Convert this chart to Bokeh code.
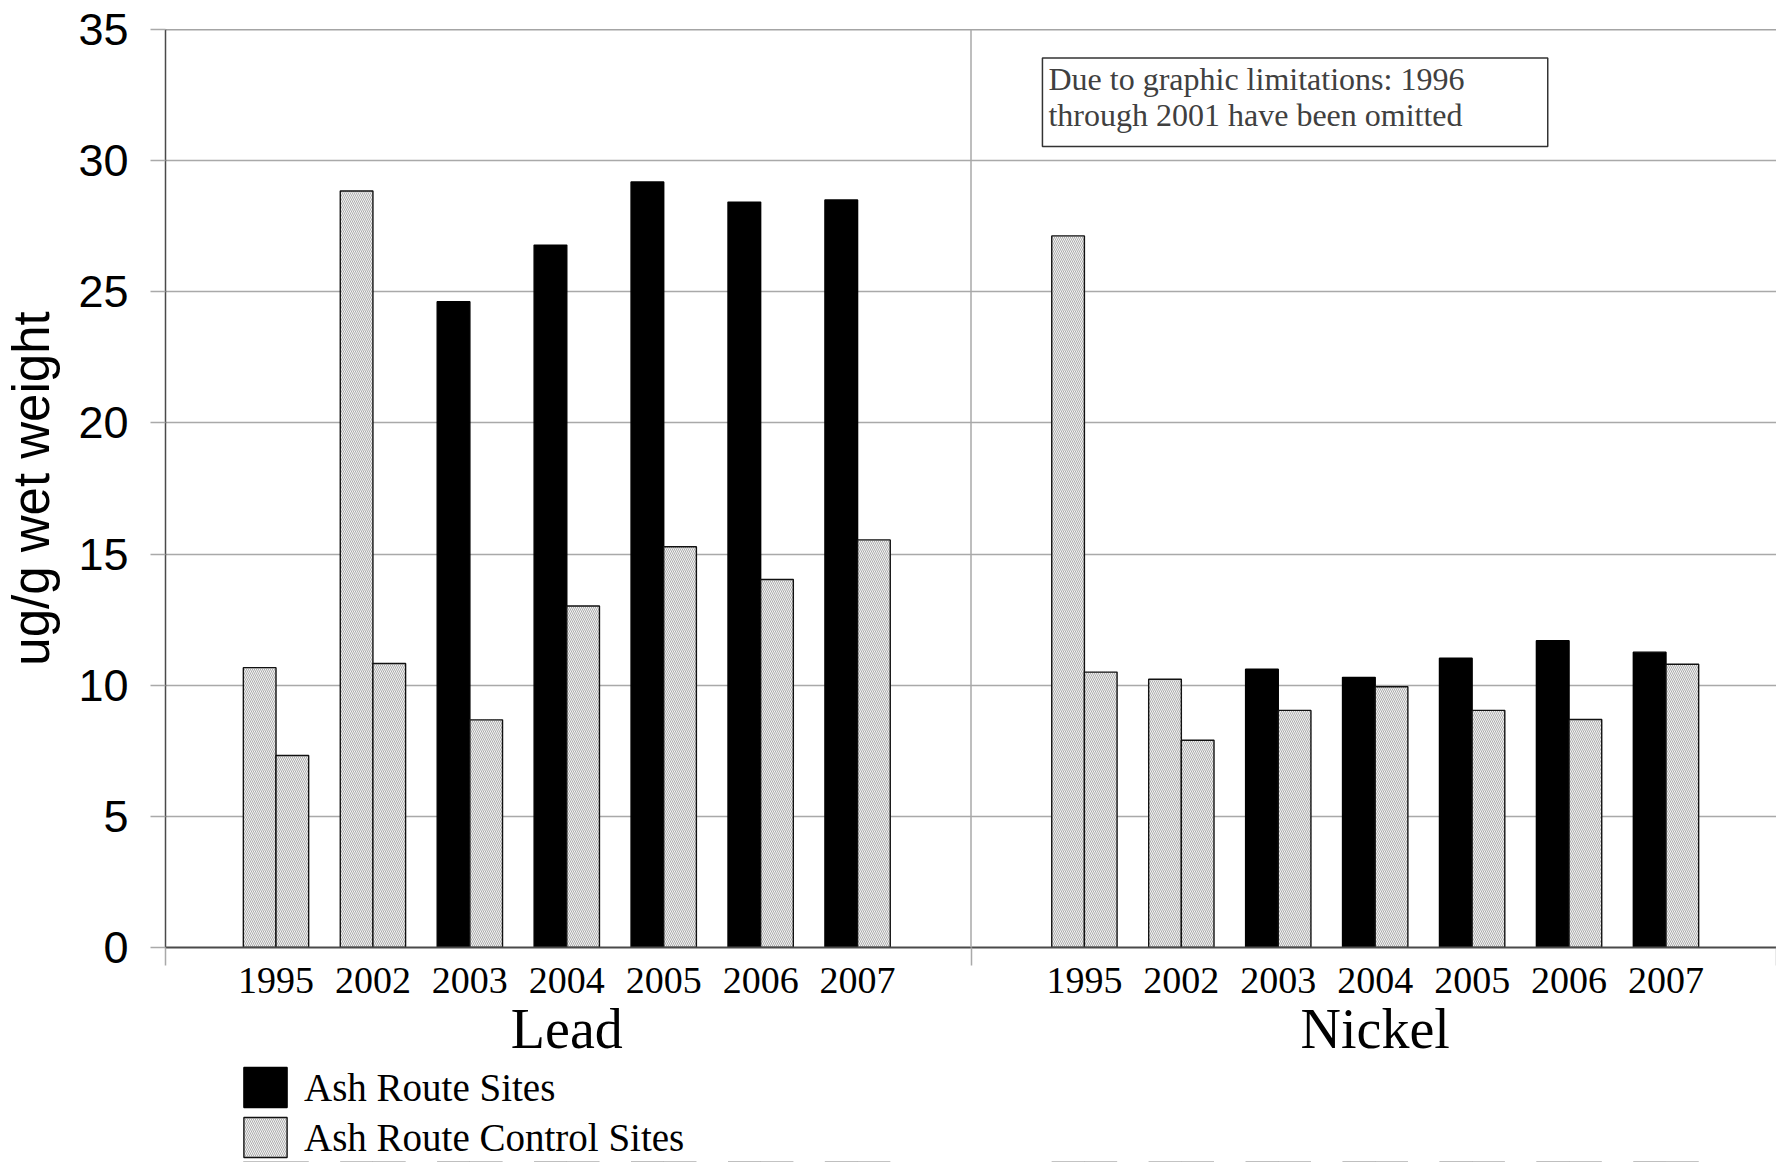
from bokeh.plotting import figure
from bokeh.layouts import column
from bokeh.models import (FactorRange, Range1d, LinearAxis, CategoricalAxis, FixedTicker,
                          ColumnDataSource, Span, Legend, LegendItem, Label, BoxAnnotation)
from bokeh.transform import dodge
from bokeh.embed import file_html
from bokeh.resources import INLINE

# ---------------- data ----------------
metals = ["Lead", "Nickel"]
years = ["1995", "2002", "2003", "2004", "2005", "2006", "2007"]
lead_first = [10.67, 28.84, 24.62, 26.78, 29.19, 28.42, 28.50]
lead_second = [7.32, 10.83, 8.68, 13.02, 15.28, 14.03, 15.54]
nickel_first = [27.13, 10.23, 10.61, 10.30, 11.03, 11.70, 11.26]
nickel_second = [10.50, 7.90, 9.04, 9.94, 9.04, 8.69, 10.80]
# in 1995 and 2002 the left bar is drawn with the control-site pattern
first_is_control = [True, True, False, False, False, False, False]
y_ticks = [0, 5, 10, 15, 20, 25, 30, 35]
series_names = ["Ash Route Sites", "Ash Route Control Sites"]
y_title = "ug/g wet weight"
note_text = "Due to graphic limitations: 1996\nthrough 2001 have been omitted"

# ---------------- layout constants ----------------
GROUP_PAD = 1.34
RANGE_PAD = 0.64
BAR_W = 0.337
GRID = "#a9a9a9"
AXIS = "#4a4a4a"
SERIF = "Liberation Serif"
SANS = "Liberation Sans"
W = 1776
LEFT = 163

factors = [(m, y) for m in metals for y in years]
first_vals = lead_first + nickel_first
second_vals = lead_second + nickel_second
first_ctrl = first_is_control * len(metals)

ash_src = ColumnDataSource(dict(
    x=[f for f, c in zip(factors, first_ctrl) if not c],
    top=[v for v, c in zip(first_vals, first_ctrl) if not c]))
ctrl_left_src = ColumnDataSource(dict(
    x=[f for f, c in zip(factors, first_ctrl) if c],
    top=[v for v, c in zip(first_vals, first_ctrl) if c]))
ctrl_right_src = ColumnDataSource(dict(x=factors, top=second_vals))

x_range = FactorRange(*factors, factor_padding=0, group_padding=GROUP_PAD,
                      range_padding=RANGE_PAD, range_padding_units="absolute")

p = figure(width=W, height=1062, x_range=x_range, y_range=Range1d(0, 35),
           output_backend="svg", toolbar_location=None, x_axis_location=None,
           min_border_top=29, min_border_right=0, min_border_left=LEFT,
           min_border_bottom=115, outline_line_color=None,
           background_fill_color="white", border_fill_color="white")

for g in p.xgrid:
    g.visible = False
p.ygrid.ticker = FixedTicker(ticks=y_ticks)
p.ygrid.grid_line_color = GRID
p.ygrid.grid_line_width = 1.5

yax = p.yaxis[0]
yax.ticker = FixedTicker(ticks=y_ticks)
yax.axis_line_color = AXIS
yax.axis_line_width = 1.5
yax.major_tick_line_color = GRID
yax.major_tick_line_width = 1.5
yax.major_tick_out = 15
yax.major_tick_in = 0
yax.minor_tick_line_color = None
yax.major_label_text_font = SANS
yax.major_label_text_font_size = "45px"
yax.major_label_text_color = "black"
yax.major_label_standoff = 22
yax.axis_label = y_title
yax.axis_label_text_font = SANS
yax.axis_label_text_font_size = "51px"
yax.axis_label_text_font_style = "normal"
yax.axis_label_text_color = "black"
yax.axis_label_standoff = 15

# top border and category divider
boundary = len(years) + GROUP_PAD / 2
total = len(factors) + GROUP_PAD
p.add_layout(Span(location=35, dimension="width", line_color=AXIS, line_width=1.5))
p.add_layout(Span(location=boundary, dimension="height", line_color=GRID, line_width=1.5))

# axis line with ticks at category boundaries (synthetic coordinates of the factor range)
tick_axis = LinearAxis(ticker=FixedTicker(ticks=[-RANGE_PAD, boundary, total + RANGE_PAD]),
                       major_tick_out=18, major_tick_in=0, major_tick_line_color=GRID,
                       major_tick_line_width=1.5, minor_tick_line_color=None,
                       axis_line_color=AXIS, axis_line_width=2,
                       major_label_text_font_size="1px", major_label_text_color=None,
                       major_label_standoff=0)
p.add_layout(tick_axis, "below")

cat_axis = CategoricalAxis(major_tick_line_color=None, major_tick_out=0, major_tick_in=0,
                           axis_line_color=None, separator_line_color=None,
                           major_label_text_font=SERIF, major_label_text_font_size="38px",
                           major_label_text_color="black", major_label_standoff=2,
                           group_text_font=SERIF, group_text_font_size="56px",
                           group_text_font_style="normal", group_text_color="black")
p.add_layout(cat_axis, "below")

hatch_kw = dict(fill_color="#f3f3f3", hatch_pattern="left_diagonal_line", hatch_scale=4,
                hatch_color="#9a9a9a", hatch_weight=0.8, line_color="#111111", line_width=1.4)
ash_kw = dict(fill_color="black", line_color="black", line_width=1.4)


def draw_bars(fig):
    r1 = fig.vbar(x=dodge("x", -BAR_W / 2, range=x_range), top="top", bottom=0, width=BAR_W,
                  source=ash_src, **ash_kw)
    fig.vbar(x=dodge("x", -BAR_W / 2, range=x_range), top="top", bottom=0, width=BAR_W,
             source=ctrl_left_src, **hatch_kw)
    r3 = fig.vbar(x=dodge("x", BAR_W / 2, range=x_range), top="top", bottom=0, width=BAR_W,
                  source=ctrl_right_src, **hatch_kw)
    return r1, r3


draw_bars(p)

# note box
p.add_layout(BoxAnnotation(left=8.407, right=13.62, top=33.91, bottom=30.54,
                           fill_color="white", fill_alpha=1.0,
                           line_color="#333333", line_alpha=1.0, line_width=1.5))
p.add_layout(Label(x=8.407, y=33.91, x_offset=6, y_offset=-3, text=note_text,
                   text_font=SERIF, text_font_size="32px", text_color="#404040",
                   text_align="left", text_baseline="top", text_line_height=1.0))

# ---------------- legend strip below the chart ----------------
# same series drawn again on a y window far above the data, so only the legend shows
lg = figure(width=W, height=100, x_range=x_range, y_range=Range1d(100, 101),
            output_backend="svg", toolbar_location=None,
            x_axis_location=None, y_axis_location=None,
            min_border_top=0, min_border_bottom=0, min_border_right=0,
            min_border_left=LEFT, outline_line_color=None,
            background_fill_color="white", border_fill_color="white")
for g in lg.xgrid + lg.ygrid:
    g.visible = False
lr_ash, lr_ctrl = draw_bars(lg)
legend = Legend(items=[LegendItem(label=series_names[0], renderers=[lr_ash]),
                       LegendItem(label=series_names[1], renderers=[lr_ctrl])],
                location=(73, 0), orientation="vertical",
                glyph_width=54, glyph_height=50, label_height=50,
                label_text_font=SERIF, label_text_font_size="39px",
                label_text_color="black", label_standoff=12, spacing=0,
                padding=0, margin=0, border_line_color=None, background_fill_alpha=0)
lg.add_layout(legend, "center")

layout = column(p, lg, spacing=0)
open("out.html", "w").write(file_html(layout, INLINE))
